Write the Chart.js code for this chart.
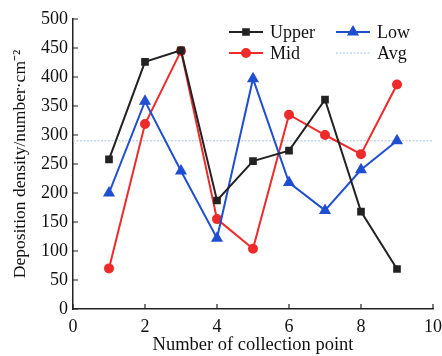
<!DOCTYPE html>
<html>
<head>
<meta charset="utf-8">
<script src="https://cdn.jsdelivr.net/npm/chart.js@4/dist/chart.umd.min.js"></script>
<style>
  html, body { margin: 0; padding: 0; background: #fff; }
  #wrap { width: 442px; height: 356px; }
</style>
</head>
<body>
<div id="wrap"><canvas id="chart" width="442" height="356"></canvas></div>
<script>
const points = [1, 2, 3, 4, 5, 6, 7, 8, 9];
const upper = [258, 426, 446, 187, 255, 273, 361, 168, 69];
const mid = [70, 319, 445, 155, 104, 335, 300, 267, 387];
const low = [200, 358, 238, 122, 397, 218, 170, 240, 290];
const avgValue = 290;
const xRange = [0, 10];
const yRange = [0, 500];

const FONT = 'Liberation Serif';
const BLACK = '#222222';
const RED = '#ee2a2a';
const BLUE = '#1f4fd0';
const AVG = '#a9c3dd';

const toXY = (ys) => ys.map((y, i) => ({ x: points[i], y: y }));

// ticks drawn inward, like the original plot
const inwardTicks = {
  id: 'inwardTicks',
  afterDraw(chart) {
    const ctx = chart.ctx;
    const xs = chart.scales.x, ys = chart.scales.y;
    const area = chart.chartArea;
    ctx.save();
    ctx.strokeStyle = BLACK;
    ctx.lineWidth = 1.2;
    ctx.beginPath();
    xs.ticks.forEach(t => {
      const px = xs.getPixelForValue(t.value);
      ctx.moveTo(px, area.bottom);
      ctx.lineTo(px, area.bottom - 5);
    });
    ys.ticks.forEach(t => {
      const py = ys.getPixelForValue(t.value);
      ctx.moveTo(area.left, py);
      ctx.lineTo(area.left + 5, py);
    });
    ctx.stroke();
    ctx.restore();
  }
};

// two-column legend with line + marker samples
const lineLegend = {
  id: 'lineLegend',
  afterDraw(chart) {
    const ctx = chart.ctx;
    const cols = [229, 336];
    const rows = [32, 53];
    ctx.save();
    ctx.font = '18px "' + FONT + '"';
    ctx.textBaseline = 'middle';
    chart.data.datasets.forEach((ds, k) => {
      const x0 = cols[k % 2], y0 = rows[Math.floor(k / 2)];
      ctx.strokeStyle = ds.borderColor;
      ctx.lineWidth = ds.borderWidth;
      ctx.setLineDash(ds.borderDash || []);
      ctx.beginPath();
      ctx.moveTo(x0, y0);
      ctx.lineTo(x0 + 34, y0);
      ctx.stroke();
      ctx.setLineDash([]);
      if (ds.pointRadius > 0) {
        ctx.fillStyle = ds.borderColor;
        Chart.helpers.drawPoint(ctx, {
          pointStyle: ds.pointStyle,
          radius: ds.pointRadius,
          rotation: 0,
          borderWidth: 1
        }, x0 + 17, y0);
      }
      ctx.fillStyle = '#111';
      ctx.fillText(ds.label, x0 + 41, y0 + 1);
    });
    ctx.restore();
  }
};

function series(label, ys, color, style, r) {
  return {
    label: label,
    data: toXY(ys),
    borderColor: color,
    backgroundColor: color,
    borderWidth: 2,
    pointStyle: style,
    pointRadius: r,
    pointBorderColor: color,
    pointBackgroundColor: color,
    tension: 0
  };
}

new Chart(document.getElementById('chart'), {
  type: 'line',
  data: {
    datasets: [
      series('Upper', upper, BLACK, 'rect', 4),
      series('Low', low, BLUE, 'triangle', 5),
      series('Mid', mid, RED, 'circle', 4),
      {
        label: 'Avg',
        data: xRange.map(x => ({ x: x, y: avgValue })),
        borderColor: AVG,
        borderWidth: 1,
        borderDash: [2, 1.5],
        pointRadius: 0
      }
    ]
  },
  options: {
    responsive: false,
    animation: false,
    layout: { padding: { top: 19, right: 9, left: 0, bottom: 0 } },
    plugins: { legend: { display: false }, tooltip: { enabled: false } },
    scales: {
      x: {
        type: 'linear',
        min: xRange[0],
        max: xRange[1],
        ticks: { stepSize: 2, color: '#111', font: { family: FONT, size: 18 }, padding: 7 },
        grid: { display: false, drawTicks: false },
        border: { display: true, color: BLACK, width: 1.5 },
        title: { display: true, text: 'Number of collection point', color: '#111', font: { family: FONT, size: 18.5 }, padding: { top: 0, bottom: 0 } },
        afterFit(s) { s.height = 47; s.paddingRight = 0; s.paddingLeft = 0; }
      },
      y: {
        min: yRange[0],
        max: yRange[1],
        ticks: { stepSize: 50, color: '#111', font: { family: FONT, size: 18 }, padding: 5 },
        grid: { display: false, drawTicks: false },
        border: { display: true, color: BLACK, width: 1.5 },
        title: { display: true, text: 'Deposition density/number·cm⁻²', color: '#111', font: { family: FONT, size: 17.5 }, padding: { top: 10, bottom: 2 } },
        afterFit(s) { s.width = 73; s.paddingTop = 0; s.paddingBottom = 0; }
      }
    }
  },
  plugins: [inwardTicks, lineLegend]
});
</script>
</body>
</html>
